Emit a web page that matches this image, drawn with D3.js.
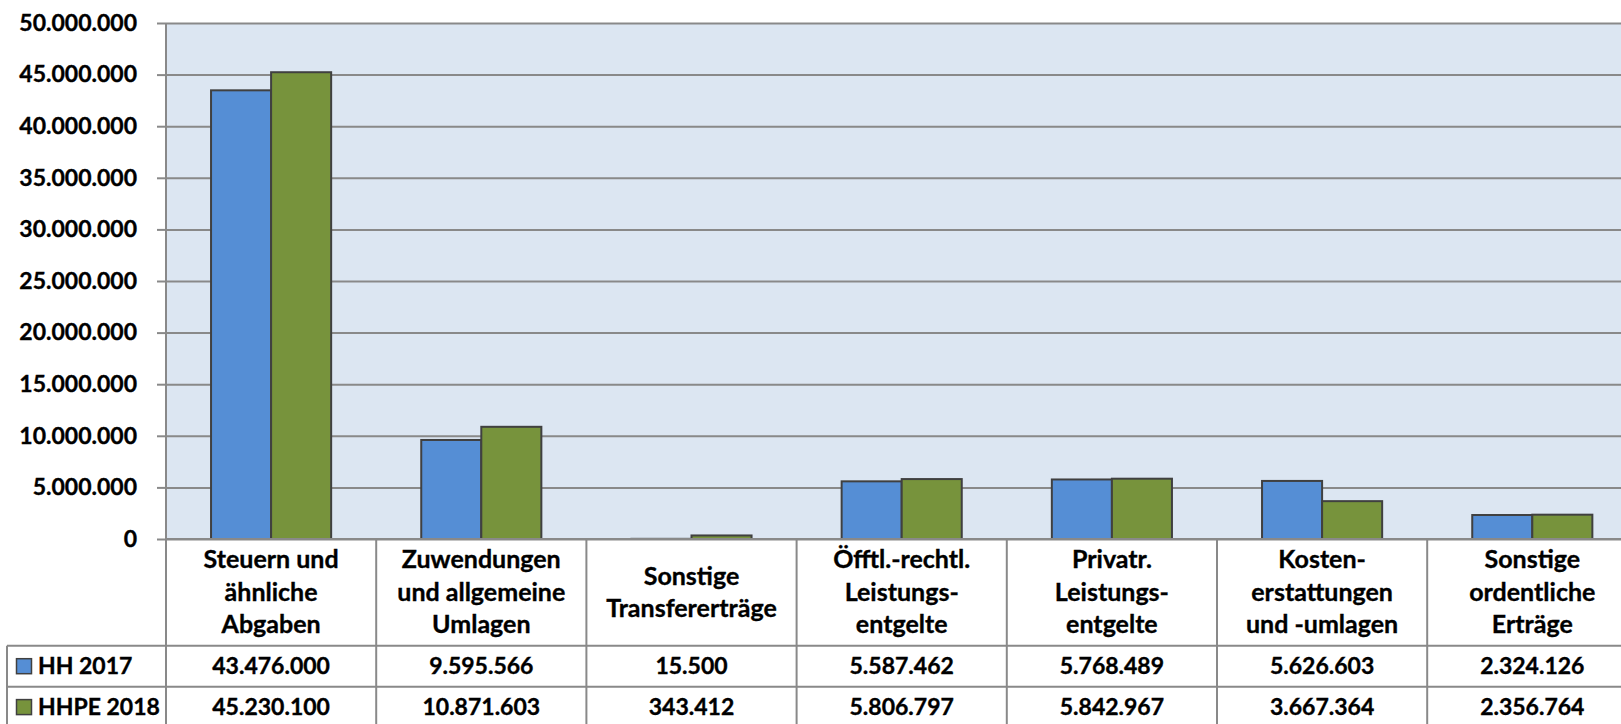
<!DOCTYPE html>
<html lang="de">
<head>
<meta charset="UTF-8">
<title>Ertraege HH 2017 / HHPE 2018</title>
<script src="https://cdn.jsdelivr.net/npm/d3@7"></script>
<style>
  body { margin: 0; background: #fff; }
  svg { display: block; font-family: Lato, "Open Sans", sans-serif; font-weight: bold; }
  svg text { stroke: #000; stroke-width: 0.35px; }
</style>
</head>
<body>
<svg id="chart" width="1621" height="724"></svg>
<script>
// data
const categories = [
  ["Steuern und", "ähnliche", "Abgaben"],
  ["Zuwendungen", "und allgemeine", "Umlagen"],
  ["Sonstige", "Transfererträge"],
  ["Öfftl.-rechtl.", "Leistungs-", "entgelte"],
  ["Privatr.", "Leistungs-", "entgelte"],
  ["Kosten-", "erstattungen", "und -umlagen"],
  ["Sonstige", "ordentliche", "Erträge"]
];
const seriesNames = ["HH 2017", "HHPE 2018"];
const hh2017 = [43476000, 9595566, 15500, 5587462, 5768489, 5626603, 2324126];
const hhpe2018 = [45230100, 10871603, 343412, 5806797, 5842967, 3667364, 2356764];
const yTicks = [0, 5000000, 10000000, 15000000, 20000000, 25000000, 30000000, 35000000, 40000000, 45000000, 50000000];
const colors = ["#558ed5", "#77933c"];

const values = [hh2017, hhpe2018];
const fmt = v => v.toLocaleString("de-DE");

const svg = d3.select("#chart");
const plotLeft = 166, colW = 210.2, plotTop = 23, plotBottom = 539;
const tableRows = [645.7, 686.7, 727.5];
const numSize = 23, labelSize = 25;
const plotRight = plotLeft + colW * categories.length;

const x = d3.scaleBand()
  .domain(d3.range(categories.length))
  .range([plotLeft, plotRight])
  .paddingInner(0).paddingOuter(0);

const xs = d3.scaleBand()
  .domain(seriesNames)
  .range([0, x.bandwidth()])
  .paddingInner(0).paddingOuter(0.75);

const y = d3.scaleLinear().domain([0, 50000000]).range([plotBottom, plotTop]);

// plot background
svg.append("rect")
  .attr("x", plotLeft).attr("y", plotTop)
  .attr("width", plotRight - plotLeft).attr("height", plotBottom - plotTop)
  .attr("fill", "#dce6f2");

// y axis with grid lines
const yAxis = svg.append("g")
  .attr("transform", `translate(${plotLeft},0)`)
  .call(d3.axisLeft(y).tickValues(yTicks).tickSize(9).tickPadding(20).tickFormat(fmt));
yAxis.select(".domain").remove();
yAxis.selectAll(".tick line").attr("stroke", "#898989").attr("stroke-width", 2);
yAxis.selectAll(".tick text")
  .attr("fill", "#000").attr("font-size", numSize).attr("font-family", "Lato, sans-serif").attr("font-weight", "bold");
yAxis.selectAll(".tick").append("line")
  .attr("x1", 0).attr("x2", plotRight - plotLeft)
  .attr("stroke", "#898989").attr("stroke-width", 2);

// bars
const groups = svg.append("g").selectAll("g")
  .data(categories)
  .join("g")
  .attr("transform", (d, i) => `translate(${x(i)},0)`);

groups.selectAll("rect")
  .data((d, i) => seriesNames.map((s, k) => ({ s, k, v: values[k][i] })))
  .join("rect")
  .attr("x", d => xs(d.s))
  .attr("width", xs.bandwidth())
  .attr("y", d => y(d.v))
  .attr("height", d => plotBottom - y(d.v))
  .attr("fill", d => colors[d.k])
  .attr("stroke", "#404040")
  .attr("stroke-width", 2);

// data table lines
const lineColor = "#898989";
const tbl = svg.append("g").attr("stroke", lineColor).attr("stroke-width", 2);
tbl.append("line").attr("x1", plotLeft).attr("x2", plotRight)
  .attr("y1", plotBottom).attr("y2", plotBottom);
tableRows.forEach(ry => {
  tbl.append("line").attr("x1", 7).attr("x2", plotRight)
    .attr("y1", ry).attr("y2", ry);
});
d3.range(categories.length + 1).forEach(i => {
  tbl.append("line")
    .attr("x1", plotLeft + colW * i).attr("x2", plotLeft + colW * i)
    .attr("y1", i === 0 ? plotTop : plotBottom).attr("y2", tableRows[2]);
});
tbl.append("line").attr("x1", 7).attr("x2", 7).attr("y1", tableRows[0]).attr("y2", tableRows[2]);

// category labels
const lineH = 32.5, labelMid = 592;
groups.append("text")
  .attr("text-anchor", "middle")
  .attr("font-size", labelSize)
  .attr("fill", "#000")
  .selectAll("tspan")
  .data(d => d.map((t, j) => ({ t, j, n: d.length })))
  .join("tspan")
  .attr("x", colW / 2)
  .attr("y", d => labelMid + (d.j - (d.n - 1) / 2) * lineH)
  .attr("dy", "0.35em")
  .text(d => d.t);

// table values and legend keys
seriesNames.forEach((s, k) => {
  const cy = (tableRows[k] + tableRows[k + 1]) / 2;
  svg.append("g").selectAll("text")
    .data(values[k])
    .join("text")
    .attr("x", (d, i) => x(i) + colW / 2)
    .attr("y", cy)
    .attr("dy", "0.35em")
    .attr("text-anchor", "middle")
    .attr("font-size", numSize)
    .attr("fill", "#000")
    .text(fmt);
  svg.append("rect")
    .attr("x", 16.5).attr("y", cy - 7.5)
    .attr("width", 15).attr("height", 15)
    .attr("fill", colors[k]).attr("stroke", "#404040").attr("stroke-width", 1.5);
  svg.append("text")
    .attr("x", 38).attr("y", cy).attr("dy", "0.35em")
    .attr("font-size", numSize).attr("fill", "#000")
    .text(s);
});
</script>
</body>
</html>
